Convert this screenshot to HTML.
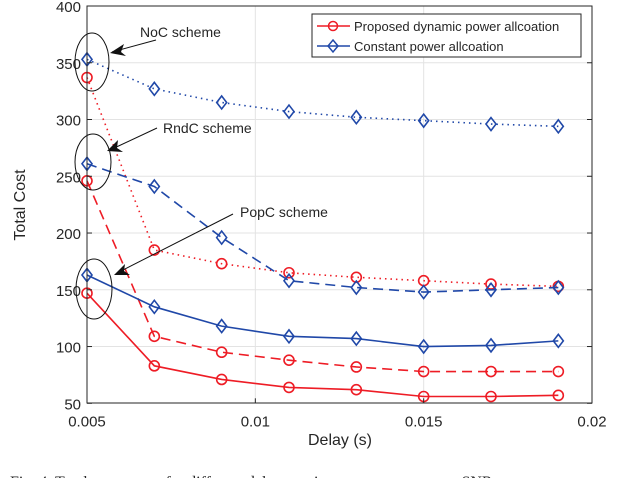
<!DOCTYPE html>
<html><head><meta charset="utf-8"><style>
body{margin:0;background:#fff;width:640px;height:478px;overflow:hidden}
svg text{font-family:"Liberation Sans",Arial,sans-serif;fill:#262626}
</style></head><body>
<svg id="chart" width="640" height="478" xmlns="http://www.w3.org/2000/svg">
<g id="grid"></g>
<g id="series"></g>
<rect x="87" y="6" width="505" height="397" fill="none" stroke="#262626" stroke-width="1"/>
<g id="ticks"></g>
<text x="340" y="445" font-size="16" text-anchor="middle">Delay (s)</text>
<text x="25" y="205" font-size="16" text-anchor="middle" transform="rotate(-90 25 205)">Total Cost</text>
<g fill="none" stroke="#111" stroke-width="1">
<ellipse cx="92" cy="62" rx="17" ry="29"/>
<ellipse cx="93" cy="162" rx="18" ry="28"/>
<ellipse cx="94" cy="289" rx="18" ry="30"/>
<line x1="156" y1="40" x2="112" y2="52"/>
<line x1="157" y1="128" x2="110" y2="150"/>
<line x1="233" y1="214" x2="117" y2="273"/>
</g>
<g fill="#111">
<polygon points="110,53 124,44 121,52 126,56"/>
<polygon points="107,151 118,140 117,148 123,152"/>
<polygon points="114,275 125,264 124,271 130,275"/>
</g>
<text x="140" y="37" font-size="14">NoC scheme</text>
<text x="163" y="133" font-size="14">RndC scheme</text>
<text x="240" y="217" font-size="14">PopC scheme</text>
<g>
<rect x="312" y="14" width="269" height="43" fill="#fff" stroke="#262626" stroke-width="1"/>
<line x1="317" y1="26" x2="350" y2="26" stroke="#ee1c25" stroke-width="1.5"/>
<circle cx="333" cy="26" r="4.5" fill="none" stroke="#ee1c25" stroke-width="1.5"/>
<text x="354" y="31" font-size="13">Proposed dynamic power allcoation</text>
<line x1="317" y1="46" x2="350" y2="46" stroke="#2048a8" stroke-width="1.5"/>
<polygon points="333,40 338,46 333,52 328,46" fill="none" stroke="#2048a8" stroke-width="1.5"/>
<text x="354" y="51" font-size="13">Constant power allcoation</text>
</g>
<text x="10" y="487" font-size="16" style="font-family:'Liberation Serif',serif">Fig. 4.   Total power cost for different delay requirements at an average SNR</text>
</svg>
<script>
const delays = [0.005,0.007,0.009,0.011,0.013,0.015,0.017,0.019];
const nocConstant = [353,327,315,307,302,299,296,294];
const nocProposed = [337,185,173,165,161,158,155,153];
const rndcConstant = [261,241,196,158,152,148,150,152];
const rndcProposed = [246,109,95,88,82,78,78,78];
const popcConstant = [163,135,118,109,107,100,101,105];
const popcProposed = [147,83,71,64,62,56,56,57];
const yTicks = [50,100,150,200,250,300,350,400];
const xTicks = [0.005,0.01,0.015,0.02];
const xTickLabels = ["0.005","0.01","0.015","0.02"];

const NS="http://www.w3.org/2000/svg";
const X0=87,X1=592,Y0=403.3,Y1=6;
function xs(v){return X0+(v-0.005)/(0.02-0.005)*(X1-X0);}
function ys(v){return Y0-(v-50)/(400-50)*(Y0-Y1);}
function mk(tag,attrs,parent){const e=document.createElementNS(NS,tag);for(const k in attrs)e.setAttribute(k,attrs[k]);parent.appendChild(e);return e;}
const grid=document.getElementById('grid'),ticks=document.getElementById('ticks'),ser=document.getElementById('series');
yTicks.forEach(t=>{
  const y=ys(t);
  if(t>50&&t<400){const g=mk('line',{x1:X0,x2:X1,y1:y,y2:y,stroke:'#e3e3e3','stroke-width':1},grid);
  
  }
  const l=mk('line',{x1:X0,x2:X0+5,y1:y,y2:y,stroke:'#262626'},ticks);
  
  
  const r=mk('line',{x1:X1-5,x2:X1,y1:y,y2:y,stroke:'#262626'},ticks);
  
  
  const tx=mk('text',{x:X0-6,y:y+6,'font-size':15,'text-anchor':'end'},ticks);
  tx.textContent=t;
  
  
});
xTicks.forEach((t,i)=>{
  const x=xs(t);
  if(i>0&&i<xTicks.length-1){const g=mk('line',{x1:x,x2:x,y1:Y1,y2:Y0,stroke:'#e3e3e3'},grid);
  
  }
  const l=mk('line',{x1:x,x2:x,y1:Y0-5,y2:Y0,stroke:'#262626'},ticks);
  
  
  const tx=mk('text',{x:x,y:Y0+23,'font-size':15,'text-anchor':'middle'},ticks);
  tx.textContent=xTickLabels[i];
  
  
});
const RED='#ee1c25',BLUE='#2048a8';
function draw(vals,color,dash,marker,name){
  const pts=vals.map((v,i)=>xs(delays[i])+','+ys(v)).join(' ');
  const pl=mk('polyline',{points:pts,fill:'none',stroke:color,'stroke-width':1.6,'stroke-dasharray':dash},ser);
  
  
  vals.forEach((v,i)=>{
    const x=xs(delays[i]),y=ys(v);let m;
    if(marker==='o')m=mk('circle',{cx:x,cy:y,r:5,fill:'none',stroke:color,'stroke-width':1.6},ser);
    else m=mk('polygon',{points:`${x},${y-6.5} ${x+5},${y} ${x},${y+6.5} ${x-5},${y}`,fill:'none',stroke:color,'stroke-width':1.6},ser);
    
    
  });
}
draw(nocConstant,BLUE,'1.5 4','d','noc-constant');
draw(nocProposed,RED,'1.5 4','o','noc-proposed');
draw(rndcConstant,BLUE,'10 6','d','rndc-constant');
draw(rndcProposed,RED,'10 6','o','rndc-proposed');
draw(popcConstant,BLUE,'','d','popc-constant');
draw(popcProposed,RED,'','o','popc-proposed');
</script>
</body></html>
